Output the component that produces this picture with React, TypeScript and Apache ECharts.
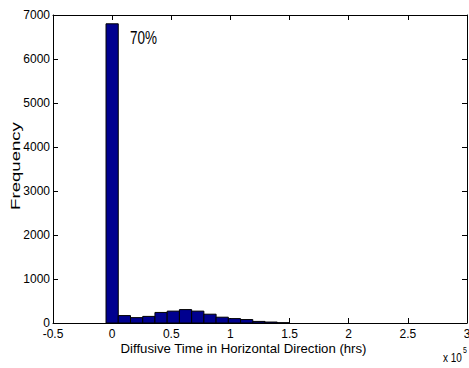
import React, { useEffect, useRef } from "react";
import * as echarts from "echarts";

// Histogram data (x in units of 1e5 hrs)
const BIN_WIDTH = 0.1034;
const counts = [6800, 168, 122, 150, 240, 270, 305, 270, 200, 132, 100, 78, 36, 22, 6];
const xTickLabels = ["-0.5", "0", "0.5", "1", "1.5", "2", "2.5", "3"];
const yTicks = [0, 1000, 2000, 3000, 4000, 5000, 6000, 7000];
const xLabel = "Diffusive Time in Horizontal Direction (hrs)";
const yLabel = "Frequency";
const annotation = "70%";
const multiplierBase = "x 10";
const multiplierExp = "5";

const FONT = "Liberation Sans, Arial, Helvetica, sans-serif";

export default function App() {
  const ref = useRef<HTMLDivElement>(null);
  useEffect(() => {
    if (!ref.current) return;
    const chart = echarts.init(ref.current, null, { renderer: "svg" });
    const data = counts.map((c, i) => [i * BIN_WIDTH - BIN_WIDTH / 2, i * BIN_WIDTH + BIN_WIDTH / 2, c]);
    const axisCommon = {
      axisLine: { show: true, onZero: false, lineStyle: { color: "#000", width: 1 } },
      splitLine: { show: false },
    };
    const tick = { show: true, inside: true, length: 5, lineStyle: { color: "#000" } };
    chart.setOption({
      animation: false,
      backgroundColor: "#fff",
      grid: { left: 53, right: 2, top: 15, bottom: 45, containLabel: false, outerBoundsMode: "none" },
      xAxis: [
        {
          type: "value",
          min: -0.5,
          max: 3,
          interval: 0.5,
          ...axisCommon,
          axisTick: tick,
          axisLabel: {
            color: "#000",
            fontFamily: FONT,
            fontSize: 12,
            margin: 5,
            hideOverlap: false,
            showMinLabel: true,
            showMaxLabel: true,
            formatter: (v: number) => {
              const idx = Math.round((v + 0.5) / 0.5);
              return xTickLabels[idx] ?? "";
            },
          },
        },
        {
          type: "value",
          position: "top",
          min: -0.5,
          max: 3,
          interval: 0.5,
          ...axisCommon,
          axisTick: tick,
          axisLabel: { show: false },
        },
      ],
      yAxis: [
        {
          type: "value",
          min: 0,
          max: 7000,
          interval: 1000,
          ...axisCommon,
          axisTick: tick,
          axisLabel: {
            color: "#000",
            fontFamily: FONT,
            fontSize: 12,
            margin: 3,
            formatter: (v: number) => (yTicks.includes(v) ? String(v) : ""),
          },
        },
        {
          type: "value",
          position: "right",
          min: 0,
          max: 7000,
          interval: 1000,
          ...axisCommon,
          axisTick: tick,
          axisLabel: { show: false },
        },
      ],
      series: [
        {
          type: "custom",
          xAxisIndex: 0,
          yAxisIndex: 0,
          encode: { x: [0, 1], y: 2 },
          data,
          renderItem: (params: any, api: any) => {
            const x0 = api.value(0);
            const x1 = api.value(1);
            const y = api.value(2);
            const p0 = api.coord([x0, y]);
            const p1 = api.coord([x1, 0]);
            return {
              type: "rect",
              shape: { x: p0[0], y: p0[1], width: p1[0] - p0[0], height: p1[1] - p0[1] },
              style: { fill: "#00008F", stroke: "#000", lineWidth: 1 },
            };
          },
        },
      ],
      graphic: [
        {
          type: "text",
          x: 243.5,
          y: 348,
          style: {
            text: xLabel,
            fontFamily: FONT,
            fontSize: 13.2,
            fill: "#000",
            align: "center",
            verticalAlign: "middle",
          },
        },
        {
          type: "text",
          x: 16,
          y: 166,
          rotation: Math.PI / 2,
          scaleX: 1.55,
          style: {
            text: yLabel,
            fontFamily: FONT,
            fontSize: 12,
            fill: "#000",
            align: "center",
            verticalAlign: "middle",
          },
        },
        {
          type: "text",
          x: 130,
          y: 37.5,
          scaleY: 1.4,
          style: {
            text: annotation,
            fontFamily: FONT,
            fontSize: 13.5,
            fill: "#000",
            align: "left",
            verticalAlign: "middle",
          },
        },
        {
          type: "text",
          x: 443,
          y: 357,
          scaleY: 1.35,
          style: {
            text: multiplierBase,
            fontFamily: FONT,
            fontSize: 10,
            fill: "#000",
            align: "left",
            verticalAlign: "middle",
          },
        },
        {
          type: "text",
          x: 463,
          y: 350,
          scaleY: 1.3,
          style: {
            text: multiplierExp,
            fontFamily: FONT,
            fontSize: 7,
            fill: "#000",
            align: "left",
            verticalAlign: "middle",
          },
        },
      ],
    });
    return () => chart.dispose();
  }, []);
  return (
    <div
      ref={ref}
      style={{ position: "absolute", left: 0, top: 0, width: 469, height: 368, background: "#fff" }}
    />
  );
}
